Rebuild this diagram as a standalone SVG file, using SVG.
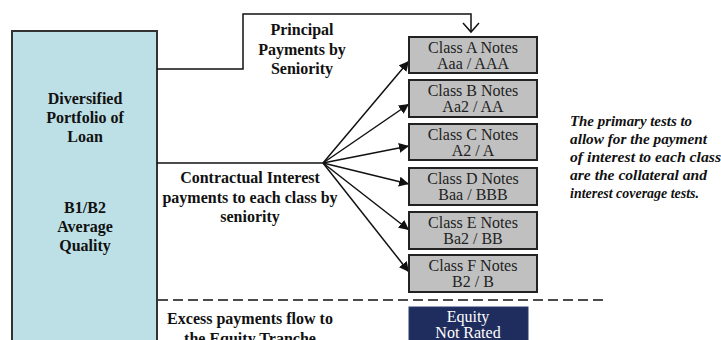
<svg xmlns="http://www.w3.org/2000/svg" width="721" height="340" viewBox="0 0 721 340">
<style>
text{font-family:'Liberation Serif','Times New Roman','DejaVu Serif',serif}
.b{font-weight:bold;font-size:16px;text-anchor:middle;fill:#111}
.n{font-size:16px;text-anchor:middle;fill:#222}
.w{font-size:16px;text-anchor:middle;fill:#fff}
.i{font-weight:bold;font-style:italic;font-size:15.5px;fill:#111}
.cls{fill:#c0c0c0;stroke:#222;stroke-width:2}
.ln{fill:none;stroke:#111;stroke-width:1.5}
</style>
<defs>
<marker id="ah" viewBox="0 0 10 10" refX="10" refY="5" markerWidth="10" markerHeight="10" markerUnits="userSpaceOnUse" orient="auto">
<path d="M0,0 L10,5 L0,10 z" fill="#111"/>
</marker>
</defs>
<g id="portfolio">
<rect x="12" y="31" width="145" height="320" fill="#bde0e6" stroke="#333" stroke-width="2"/>
<text class="b" x="85" y="104">Diversified</text>
<text class="b" x="85" y="123">Portfolio of</text>
<text class="b" x="85" y="142">Loan</text>
<text class="b" x="85" y="213">B1/B2</text>
<text class="b" x="85" y="232">Average</text>
<text class="b" x="85" y="251">Quality</text>
</g>
<g id="connectors">
<polyline class="ln" points="157,69 243,69 243,14 471,14 471,32"/>
<polyline class="ln" points="463,23 471,32 479,23"/>
<line class="ln" x1="157" y1="163" x2="323" y2="163"/>
<line class="ln" x1="323" y1="163" x2="409" y2="61" marker-end="url(#ah)"/>
<line class="ln" x1="323" y1="163" x2="409" y2="104" marker-end="url(#ah)"/>
<line class="ln" x1="323" y1="163" x2="409" y2="146" marker-end="url(#ah)"/>
<line class="ln" x1="323" y1="163" x2="409" y2="184" marker-end="url(#ah)"/>
<line class="ln" x1="323" y1="163" x2="409" y2="230" marker-end="url(#ah)"/>
<line class="ln" x1="323" y1="163" x2="409" y2="272" marker-end="url(#ah)"/>
<line x1="158" y1="300" x2="604" y2="300" stroke="#111" stroke-width="1.6" stroke-dasharray="10 5"/>
</g>
<g id="principal-label">
<text class="b" x="302" y="35">Principal</text>
<text class="b" x="302" y="55">Payments by</text>
<text class="b" x="302" y="74">Seniority</text>
</g>
<g id="interest-label">
<text class="b" x="250" y="183">Contractual Interest</text>
<text class="b" x="250" y="203">payments to each class by</text>
<text class="b" x="250" y="222">seniority</text>
</g>
<g id="excess-label">
<text class="b" x="250" y="324">Excess payments flow to</text>
<text class="b" x="250" y="344">the Equity Tranche</text>
</g>
<g id="classA"><rect class="cls" x="409" y="37" width="128" height="36"/><text class="n" x="473" y="53">Class A Notes</text><text class="n" x="473" y="69">Aaa / AAA</text></g>
<g id="classB"><rect class="cls" x="409" y="80" width="128" height="37"/><text class="n" x="473" y="96">Class B Notes</text><text class="n" x="473" y="112">Aa2 / AA</text></g>
<g id="classC"><rect class="cls" x="409" y="124" width="128" height="36"/><text class="n" x="473" y="140">Class C Notes</text><text class="n" x="473" y="156">A2 / A</text></g>
<g id="classD"><rect class="cls" x="409" y="168" width="128" height="37"/><text class="n" x="473" y="184">Class D Notes</text><text class="n" x="473" y="200">Baa / BBB</text></g>
<g id="classE"><rect class="cls" x="409" y="212" width="128" height="37"/><text class="n" x="473" y="228">Class E Notes</text><text class="n" x="473" y="244">Ba2 / BB</text></g>
<g id="classF"><rect class="cls" x="409" y="255" width="128" height="37"/><text class="n" x="473" y="271">Class F Notes</text><text class="n" x="473" y="287">B2 / B</text></g>
<g id="equity"><rect x="409" y="307" width="119" height="50" fill="#1f2d5e" stroke="#2a3a70" stroke-width="1"/><text class="w" x="468" y="322">Equity</text><text class="w" x="468" y="338">Not Rated</text></g>
<g id="note">
<text class="i" x="570" y="126" textLength="122" lengthAdjust="spacingAndGlyphs">The primary tests to</text>
<text class="i" x="570" y="144" textLength="137" lengthAdjust="spacingAndGlyphs">allow for the payment</text>
<text class="i" x="570" y="162" textLength="151" lengthAdjust="spacingAndGlyphs">of interest to each class</text>
<text class="i" x="570" y="180" textLength="137" lengthAdjust="spacingAndGlyphs">are the collateral and</text>
<text class="i" x="570" y="198" textLength="129" lengthAdjust="spacingAndGlyphs">interest coverage tests.</text>
</g>
</svg>
